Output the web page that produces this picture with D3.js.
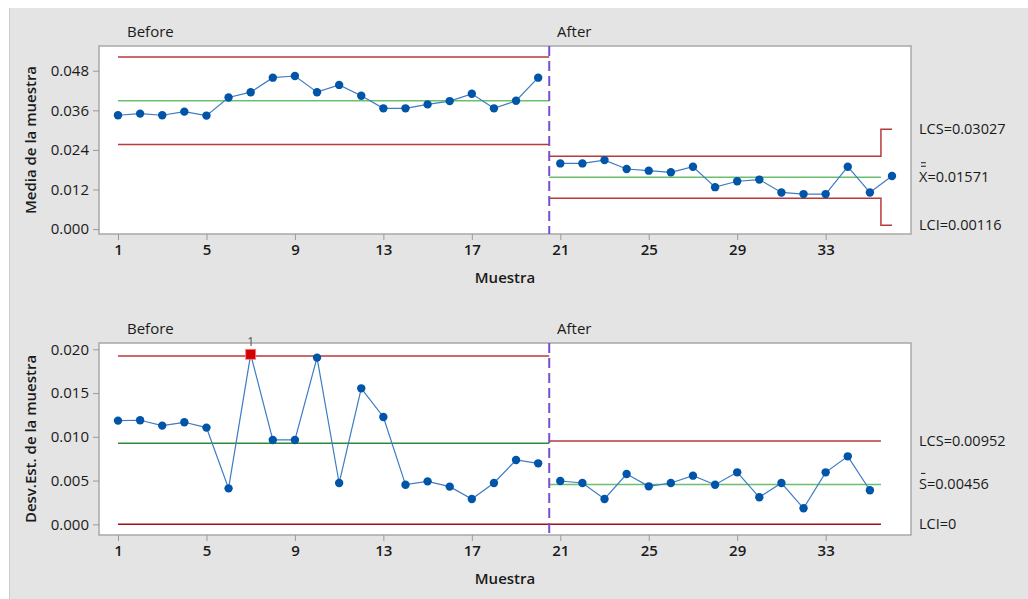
<!DOCTYPE html>
<html>
<head>
<meta charset="utf-8">
<script src="https://cdn.jsdelivr.net/npm/d3@7"></script>
<style>
  body { margin: 0; background: #fff; }
  text { font-family: "Open Sans", "Noto Sans", sans-serif; fill: #1a1a1a; }
</style>
</head>
<body>
<svg id="chart" width="1028" height="599"></svg>
<script>
// Data (Minitab Xbar-S chart, two stages)
var muestraTicks = [1, 5, 9, 13, 17, 21, 25, 29, 33];
var mediaTicks = [0.000, 0.012, 0.024, 0.036, 0.048];
var desvTicks = [0.000, 0.005, 0.010, 0.015, 0.020];

// sample means, samples 1-36
var mediaBefore = [0.0345, 0.0350, 0.0345, 0.0356, 0.0344, 0.0399, 0.0415, 0.0459, 0.0464, 0.0415,
                   0.0437, 0.0404, 0.0366, 0.0366, 0.0378, 0.0388, 0.0410, 0.0366, 0.0389, 0.0459];
var mediaAfter = [0.0199, 0.0199, 0.0209, 0.0182, 0.0177, 0.0172, 0.0189, 0.0127, 0.0145, 0.0150,
                  0.0111, 0.0106, 0.0106, 0.0189, 0.0111, 0.0161];
// sample std devs, samples 1-35 (sample 36 has a single value)
var desvBefore = [0.01185, 0.01189, 0.01128, 0.01166, 0.01105, 0.00411, 0.01943, 0.00964, 0.00964, 0.01905,
                  0.00472, 0.01554, 0.01227, 0.00453, 0.00491, 0.00431, 0.00290, 0.00472, 0.00735, 0.00697];
var desvAfter = [0.00495, 0.00472, 0.00290, 0.00575, 0.00434, 0.00472, 0.00556, 0.00453, 0.00594, 0.00309,
                 0.00472, 0.00183, 0.00594, 0.00777, 0.00389];

// control limits
var mediaLimBefore = {lcs: 0.0522, media: 0.0389, lci: 0.0256};
var mediaLimAfter = {lcs: 0.02211, media: 0.01571, lci: 0.00931};
var mediaLimLast = {lcs: 0.03027, lci: 0.00116};
var desvLimBefore = {lcs: 0.01924, media: 0.00926, lci: 0};
var desvLimAfter = {lcs: 0.00952, media: 0.00456, lci: 0};
var fallos = [7]; // point out of control in S chart

var svg = d3.select("#chart");

// panel background
svg.append("rect").attr("x", 9).attr("y", 8).attr("width", 1019).attr("height", 591)
	.style("fill", "#e4e4e4");
svg.append("line").attr("x1", 9.5).attr("x2", 9.5).attr("y1", 8).attr("y2", 599)
	.style("stroke", "#cdcdcd");

var x = d3.scaleLinear().domain([1, 36]).range([118, 892]);
var left = 99, right = 911;

function panel(cfg){
	var top = cfg.top, bottom = cfg.bottom;
	var y = d3.scaleLinear().domain(cfg.domain).range([bottom, top]);

	svg.append("rect").attr("x", left).attr("y", top)
		.attr("width", right - left).attr("height", bottom - top)
		.style("fill", "#fff").style("stroke", "#a8a8a8").style("stroke-width", 1.5);

	// axes
	var gy = svg.append("g").attr("transform", "translate(" + left + ",0)")
		.call(d3.axisLeft(y).tickValues(cfg.ticks).tickFormat(d3.format(cfg.fmt)).tickSize(6).tickPadding(4));
	var gx = svg.append("g").attr("transform", "translate(0," + bottom + ")")
		.call(d3.axisBottom(x).tickValues(muestraTicks).tickSize(6).tickPadding(4));
	[gx, gy].forEach(function(g){
		g.select(".domain").remove();
		g.selectAll(".tick line").style("stroke", "#9a9a9a");
		g.selectAll(".tick text").style("font-size", "15px").style("fill", "#1a1a1a")
			.style("font-family", "'Open Sans', sans-serif");
	});
	gx.selectAll(".tick text").style("font-weight", 600);

	svg.append("text").attr("x", 505).attr("y", bottom + 49)
		.attr("text-anchor", "middle").style("font-size", "15px").style("font-weight", 600)
		.text("Muestra");
	svg.append("text").attr("transform", "translate(36," + ((top + bottom) / 2) + ") rotate(-90)")
		.attr("text-anchor", "middle").style("font-size", "15px").style("font-weight", 600)
		.text(cfg.titulo);

	svg.append("text").attr("x", 127).attr("y", top - 9).style("font-size", "15px").text("Before");
	svg.append("text").attr("x", 557).attr("y", top - 9).style("font-size", "15px").text("After");

	var corte = x(20.5);
	function hline(v, x1, x2, color){
		svg.append("line").attr("x1", x1).attr("x2", x2).attr("y1", y(v)).attr("y2", y(v))
			.style("stroke", color).style("stroke-width", 1.5);
	}
	var rojo = "#b83a3a";
	hline(cfg.limB.lcs, x(1), corte, rojo);
	hline(cfg.limB.lci, x(1), corte, cfg.lciColor);
	hline(cfg.limB.media, x(1), corte, cfg.verdeB);
	hline(cfg.limA.media, corte, x(35.5), "#6cbf6c");

	if (cfg.limL){
		var step = d3.line().curve(d3.curveStepAfter);
		[["lcs"], ["lci"]].forEach(function(k){
			var pts = [[corte, y(cfg.limA[k])], [x(35.5), y(cfg.limL[k])], [x(36), y(cfg.limL[k])]];
			svg.append("path").attr("d", step(pts))
				.style("fill", "none").style("stroke", rojo).style("stroke-width", 1.5);
		});
	} else {
		hline(cfg.limA.lcs, corte, x(35.5), rojo);
		hline(cfg.limA.lci, corte, x(35.5), cfg.lciColor);
	}

	// stage divider
	svg.append("line").attr("x1", corte).attr("x2", corte).attr("y1", top).attr("y2", bottom)
		.style("stroke", "#7a4fcf").style("stroke-width", 2).style("stroke-dasharray", "10,5");

	// data
	var datos = cfg.before.map(function(v, i){ return {n: i + 1, v: v}; });
	var datosA = cfg.after.map(function(v, i){ return {n: i + 21, v: v}; });
	var linea = d3.line().x(function(d){ return x(d.n); }).y(function(d){ return y(d.v); });
	[datos, datosA].forEach(function(d){
		svg.append("path").datum(d).attr("d", linea)
			.style("fill", "none").style("stroke", "#3d7cc4").style("stroke-width", 1.2);
	});
	var todos = datos.concat(datosA);
	svg.selectAll(null).data(todos.filter(function(d){ return cfg.fallos.indexOf(d.n) < 0; }))
		.enter().append("circle")
		.attr("cx", function(d){ return x(d.n); })
		.attr("cy", function(d){ return y(d.v); })
		.attr("r", 4.2).style("fill", "#0055a8");
	var malos = todos.filter(function(d){ return cfg.fallos.indexOf(d.n) >= 0; });
	svg.selectAll(null).data(malos).enter().append("rect")
		.attr("x", function(d){ return x(d.n) - 5; })
		.attr("y", function(d){ return y(d.v) - 5; })
		.attr("width", 10).attr("height", 10)
		.style("fill", "#d40000").style("stroke", "#f08080").style("stroke-width", 0.8);
	svg.selectAll(null).data(malos).enter().append("text")
		.attr("x", function(d){ return x(d.n); })
		.attr("y", function(d){ return y(d.v) - 8; })
		.attr("text-anchor", "middle").style("font-size", "12px").style("fill", "#555")
		.text("1");

	// right labels
	function etiqueta(v, txt, barras){
		var t = svg.append("text").attr("x", 919).attr("y", y(v)).attr("dy", "0.35em")
			.style("font-size", "14.5px").text(txt);
		if (barras){
			var w = t.node().getSubStringLength(0, 1);
			for (var b = 0; b < barras; b++){
				var yb = y(v) - 11 - b * 3.5;
				svg.append("line").attr("x1", 921).attr("x2", 919 + w - 1.5)
					.attr("y1", yb).attr("y2", yb)
					.style("stroke", "#1a1a1a").style("stroke-width", 1);
			}
		}
	}
	cfg.etiquetas.forEach(function(e){ etiqueta(e[0], e[1], e[2]); });
}

panel({
	top: 46, bottom: 234, domain: [-0.0015, 0.0555], ticks: mediaTicks, fmt: ".3f",
	titulo: "Media de la muestra",
	before: mediaBefore, after: mediaAfter,
	limB: mediaLimBefore, limA: mediaLimAfter, limL: mediaLimLast,
	lciColor: "#b83a3a", verdeB: "#6cbf6c", fallos: [],
	etiquetas: [[mediaLimLast.lcs, "LCS=0.03027", 0], [mediaLimAfter.media, "X=0.01571", 2],
		[mediaLimLast.lci, "LCI=0.00116", 0]]
});

panel({
	top: 343, bottom: 535, domain: [-0.00122, 0.02072], ticks: desvTicks, fmt: ".3f",
	titulo: "Desv.Est. de la muestra",
	before: desvBefore, after: desvAfter,
	limB: desvLimBefore, limA: desvLimAfter, limL: null,
	lciColor: "#a01010", verdeB: "#2f8a3a", fallos: fallos,
	etiquetas: [[desvLimAfter.lcs, "LCS=0.00952", 0], [desvLimAfter.media, "S=0.00456", 1],
		[desvLimAfter.lci, "LCI=0", 0]]
});
</script>
</body>
</html>
